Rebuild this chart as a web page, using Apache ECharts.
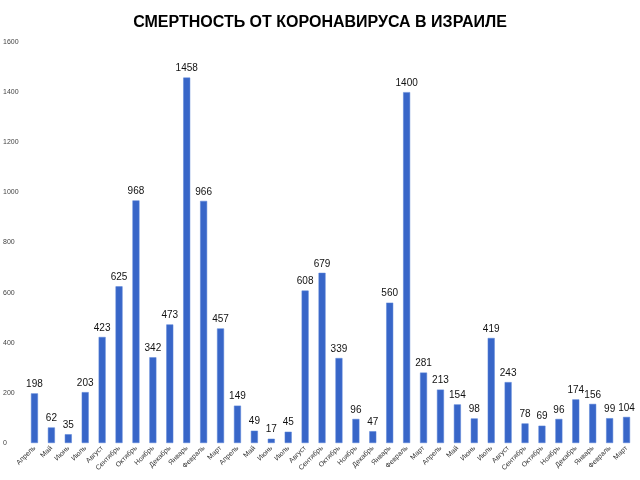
<!DOCTYPE html>
<html>
<head>
<meta charset="utf-8">
<script src="https://cdn.jsdelivr.net/npm/echarts@6/dist/echarts.min.js"></script>
<style>
    html, body { margin: 0; padding: 0; background: #fff; }
    #chart { width: 640px; height: 480px; }
</style>
</head>
<body>
<div id="chart"></div>
<script>
var months = ['Апрель', 'Май', 'Июнь', 'Июль', 'Август', 'Сентябрь', 'Октябрь', 'Ноябрь', 'Декабрь', 'Январь', 'Февраль', 'Март',
    'Апрель', 'Май', 'Июнь', 'Июль', 'Август', 'Сентябрь', 'Октябрь', 'Ноябрь', 'Декабрь', 'Январь', 'Февраль', 'Март',
    'Апрель', 'Май', 'Июнь', 'Июль', 'Август', 'Сентябрь', 'Октябрь', 'Ноябрь', 'Декабрь', 'Январь', 'Февраль', 'Март'];
var deaths = [198, 62, 35, 203, 423, 625, 968, 342, 473, 1458, 966, 457,
    149, 49, 17, 45, 608, 679, 339, 96, 47, 560, 1400, 281,
    213, 154, 98, 419, 243, 78, 69, 96, 174, 156, 99, 104];
var yTicks = [0, 200, 400, 600, 800, 1000, 1200, 1400, 1600];

var myChart = echarts.init(document.getElementById('chart'));
var option = {
    animation: false,
    title: {
        text: 'СМЕРТНОСТЬ ОТ КОРОНАВИРУСА В ИЗРАИЛЕ',
        left: 'center',
        top: 10,
        textStyle: {
            fontFamily: 'Liberation Sans',
            fontSize: 16,
            fontWeight: 'bold',
            color: '#000'
        }
    },
    grid: {
        left: 26,
        right: 5,
        top: 42,
        bottom: 37
    },
    xAxis: {
        type: 'category',
        data: months,
        axisLine: { show: false },
        axisTick: { show: false },
        axisLabel: {
            interval: 0,
            rotate: 45,
            fontSize: 7,
            color: '#333',
            fontFamily: 'Liberation Sans',
            margin: 4
        }
    },
    yAxis: {
        type: 'value',
        min: yTicks[0],
        max: yTicks[yTicks.length - 1],
        interval: 200,
        axisLine: { show: false },
        axisTick: { show: false },
        splitLine: { show: false },
        axisLabel: {
            align: 'left',
            margin: 23,
            fontSize: 7,
            color: '#444',
            fontFamily: 'Liberation Sans',
            formatter: function (v) { return String(v); }
        }
    },
    series: [{
        type: 'bar',
        data: deaths,
        barWidth: 7,
        itemStyle: {
            color: '#3866c8',
            borderColor: '#5a85d8',
            borderWidth: 0.5
        },
        label: {
            show: true,
            position: 'top',
            distance: 4,
            fontSize: 10,
            color: '#111',
            fontFamily: 'Liberation Sans'
        }
    }]
};
myChart.setOption(option);
</script>
</body>
</html>
